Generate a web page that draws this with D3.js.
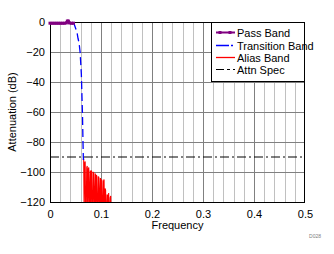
<!DOCTYPE html>
<html>
<head>
<meta charset="utf-8">
<script src="https://cdn.jsdelivr.net/npm/d3@7"></script>
<style>
  body { margin: 0; background: #fff; }
  text { font-family: "Liberation Sans", Arial, sans-serif; }
</style>
</head>
<body>
<script>
// values
var passFreq = [0.000, 0.004, 0.008, 0.012, 0.016, 0.020, 0.024, 0.028, 0.032, 0.034, 0.036, 0.038, 0.042, 0.046];
var passDb   = [-0.8, -0.8, -0.8, -0.8, -0.8, -0.8, -0.8, -0.8, -0.6, 0.6, 0.6, -0.6, -0.8, -0.8];

var transFreq = [0.046, 0.049, 0.053, 0.055, 0.057, 0.059, 0.060, 0.0615, 0.0627, 0.0637, 0.0647, 0.0653, 0.0657];
var transDb   = [0, -3, -7, -11, -14, -20, -26, -35, -50, -62, -80, -90, -92];

var aliasFreq = [0.065, 0.066, 0.067, 0.068, 0.069, 0.070, 0.071, 0.072, 0.073, 0.074,
                 0.075, 0.076, 0.077, 0.078, 0.079, 0.080, 0.081, 0.082, 0.083, 0.084,
                 0.085, 0.086, 0.087, 0.088, 0.089, 0.090, 0.091, 0.092, 0.093, 0.094,
                 0.095, 0.096, 0.097, 0.098, 0.099, 0.100, 0.101, 0.102, 0.103, 0.104,
                 0.105, 0.106, 0.107, 0.108, 0.109, 0.110, 0.111, 0.112, 0.113, 0.114,
                 0.115, 0.116, 0.117, 0.118, 0.119, 0.120];
var aliasDb   = [-92, -91, -130, -94, -93, -130, -130, -97, -96, -130,
                 -98, -97, -130, -113, -99, -130, -99, -100, -130, -130,
                 -100, -101, -130, -118, -101, -130, -102, -103, -130, -130,
                 -103, -104, -130, -116, -104, -130, -105, -106, -130, -130,
                 -106, -105, -130, -111, -112, -130, -130, -115, -116, -130,
                 -114, -130, -130, -117, -116, -130];

var specFreq = [0, 0.5];
var specDb   = [-90, -90];

var xTicks = [0, 0.1, 0.2, 0.3, 0.4, 0.5];
var xMinor = [0.02, 0.04, 0.06, 0.08, 0.12, 0.14, 0.16, 0.18, 0.22, 0.24, 0.26, 0.28,
              0.32, 0.34, 0.36, 0.38, 0.42, 0.44, 0.46, 0.48];
var yTicks = [0, -20, -40, -60, -80, -100, -120];

var legendNames = ["Pass Band", "Transition Band", "Alias Band", "Attn Spec"];

var margin = {top: 22, right: 29, bottom: 52, left: 50},
    width = 334 - margin.left - margin.right,
    height = 254 - margin.top - margin.bottom;

var x = d3.scaleLinear().domain([0, 0.5]).range([0, width]);
var y = d3.scaleLinear().domain([-120, 0]).range([height, 0]);

var svg = d3.select("body").append("svg")
    .attr("width", 334)
    .attr("height", 254);

var g = svg.append("g")
    .attr("transform", "translate(" + margin.left + "," + margin.top + ")");

svg.append("defs").append("clipPath").attr("id", "clip")
  .append("rect").attr("x", 0).attr("y", -4).attr("width", width).attr("height", height + 4);

// grid
g.selectAll(".minor").data(xMinor).enter().append("line")
    .attr("x1", function(d) { return Math.round(x(d)) + 0.5; })
    .attr("x2", function(d) { return Math.round(x(d)) + 0.5; })
    .attr("y1", 0).attr("y2", height)
    .attr("stroke", "#c0c0c0").attr("stroke-width", 1);

g.selectAll(".major").data(xTicks.slice(1, -1)).enter().append("line")
    .attr("x1", function(d) { return Math.round(x(d)) + 0.5; })
    .attr("x2", function(d) { return Math.round(x(d)) + 0.5; })
    .attr("y1", 0).attr("y2", height)
    .attr("stroke", "#808080").attr("stroke-width", 1);

g.selectAll(".hgrid").data(yTicks.slice(1, -1)).enter().append("line")
    .attr("x1", 0).attr("x2", width)
    .attr("y1", function(d) { return Math.round(y(d)) + 0.5; })
    .attr("y2", function(d) { return Math.round(y(d)) + 0.5; })
    .attr("stroke", "#808080").attr("stroke-width", 1);

// frame
g.append("rect").attr("x", 0.5).attr("y", 0.5)
    .attr("width", width - 1).attr("height", height)
    .attr("fill", "none").attr("stroke", "#000");

// axes (labels only)
var xAxis = g.append("g")
    .attr("transform", "translate(0," + height + ")")
    .call(d3.axisBottom(x).tickValues(xTicks).tickSize(0).tickPadding(8)
      .tickFormat(function(d) { return d === 0 ? "0" : d3.format(".1f")(d); }));
xAxis.select(".domain").remove();

var yAxis = g.append("g")
    .call(d3.axisLeft(y).tickValues(yTicks).tickSize(0).tickPadding(5));
yAxis.select(".domain").remove();

g.selectAll(".tick text").attr("font-size", 11)
    .attr("font-family", "Liberation Sans, Arial, sans-serif").attr("fill", "#000");

var line = d3.line()
    .x(function(d) { return x(d[0]); })
    .y(function(d) { return y(d[1]); });

var plot = g.append("g").attr("clip-path", "url(#clip)");

// alias band
plot.append("path")
    .datum(d3.zip(aliasFreq, aliasDb))
    .attr("d", line)
    .attr("fill", "none").attr("stroke", "#ff0000").attr("stroke-width", 1.1)
    .attr("stroke-linejoin", "miter");

// transition band
plot.append("path")
    .datum(d3.zip(transFreq, transDb))
    .attr("d", line)
    .attr("fill", "none").attr("stroke", "#0000ff").attr("stroke-width", 1.3)
    .attr("stroke-dasharray", "8,4");

// attenuation spec
plot.append("path")
    .datum(d3.zip(specFreq, specDb))
    .attr("d", line)
    .attr("fill", "none").attr("stroke", "#000").attr("stroke-width", 1)
    .attr("stroke-dasharray", "9,3,2,3");

// pass band
var passData = d3.zip(passFreq, passDb);
g.append("path")
    .datum(passData)
    .attr("d", line)
    .attr("fill", "none").attr("stroke", "#800080").attr("stroke-width", 2.5);
g.selectAll(".pm").data(passData).enter().append("rect")
    .attr("x", function(d) { return x(d[0]) - 1.5; })
    .attr("y", function(d) { return y(d[1]) - 1.5; })
    .attr("width", 3).attr("height", 3)
    .attr("fill", "#800080");

// axis titles
svg.append("text")
    .attr("x", margin.left + width / 2).attr("y", 229)
    .attr("text-anchor", "middle").attr("font-size", 11)
    .text("Frequency");

svg.append("text")
    .attr("transform", "translate(16," + (margin.top + height / 2) + ") rotate(-90)")
    .attr("text-anchor", "middle").attr("font-size", 11)
    .text("Attenuation (dB)");

svg.append("text")
    .attr("x", 321).attr("y", 238)
    .attr("text-anchor", "end").attr("font-size", 5).attr("fill", "#808080")
    .text("D028");

// legend
var lg = g.append("g").attr("transform", "translate(161,0)");
lg.append("rect").attr("x", 0.5).attr("y", 0.5).attr("width", 93).attr("height", 59)
    .attr("fill", "#fff").attr("stroke", "#000");

var rowY = [10.5, 23.5, 35.5, 47.5];
var styles = [
  {c: "#800080", dash: null, w: 2},
  {c: "#0000ff", dash: "13,2,2,3", w: 1.3},
  {c: "#ff0000", dash: null, w: 1.3},
  {c: "#000", dash: "8,3,3,3", w: 1}
];
legendNames.forEach(function(name, i) {
  var s = styles[i];
  lg.append("line").attr("x1", 5).attr("x2", 24)
      .attr("y1", rowY[i]).attr("y2", rowY[i])
      .attr("stroke", s.c).attr("stroke-width", s.w)
      .attr("stroke-dasharray", s.dash);
  if (i === 0) {
    [9, 19].forEach(function(mx) {
      lg.append("rect").attr("x", mx - 1.5).attr("y", rowY[i] - 1.5)
          .attr("width", 3).attr("height", 3).attr("fill", s.c);
    });
  }
  lg.append("text").attr("x", 26).attr("y", rowY[i] + 4)
      .attr("font-size", 11).text(name);
});
</script>
</body>
</html>
